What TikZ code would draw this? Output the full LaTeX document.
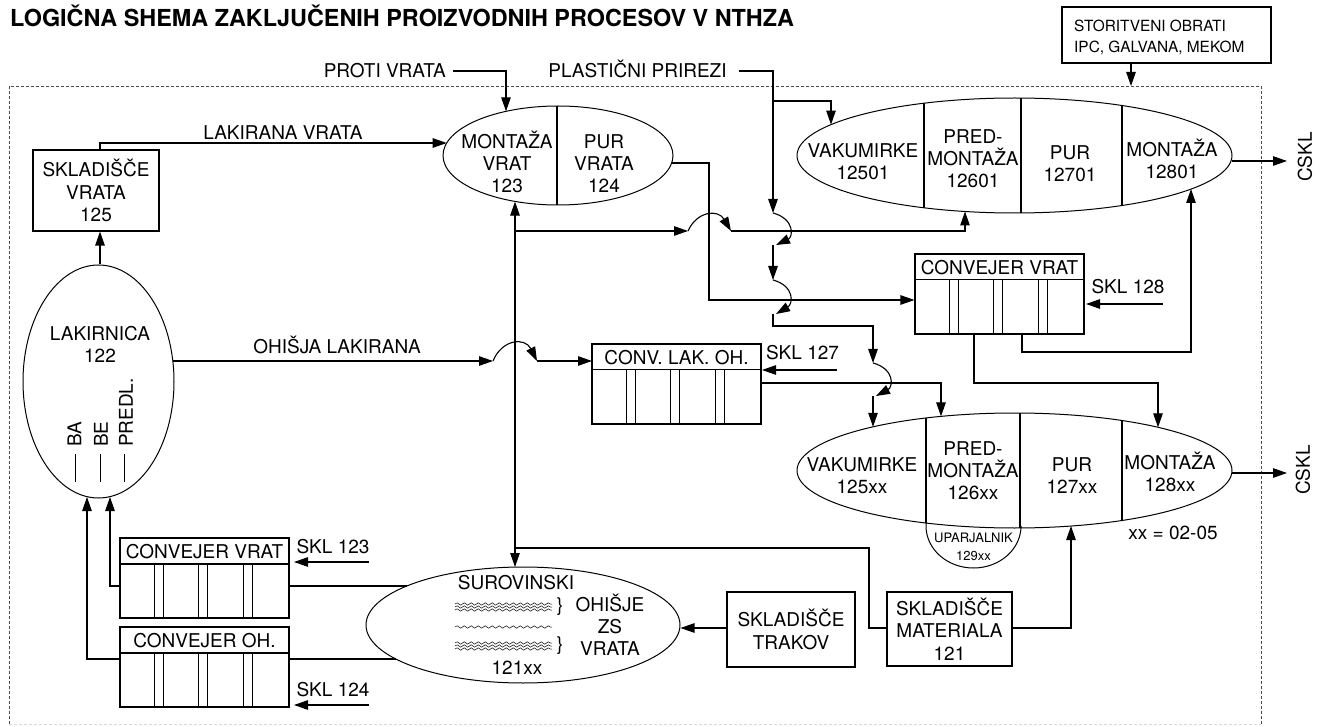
\documentclass[tikz,border=0pt]{standalone}
\usepackage{fontspec}
\setmainfont{TeX Gyre Heros}
\usetikzlibrary{shapes.geometric,arrows.meta,decorations.pathmorphing,calc}
\tikzset{
 lw/.style={line width=1.1pt},
 arr/.style={lw,-{Triangle[length=14pt,width=9.5pt]}},
 dbl/.style={lw,{Triangle[length=14pt,width=9.5pt]}-{Triangle[length=14pt,width=9.5pt]}},
 txt/.style={inner sep=0pt,align=center,font=\fontsize{19}{22}\selectfont},
 smalltxt/.style={inner sep=0pt,align=center,font=\fontsize{13}{18}\selectfont},
 boxn/.style={draw,lw,inner sep=0pt,align=center,font=\fontsize{19}{22.5}\selectfont},
 elln/.style={draw,ellipse,line width=1pt,inner sep=0pt},
 framel/.style={line width=0.9pt,gray!60!black,dash pattern=on 3pt off 2pt},
 wave/.style={line width=0.5pt,decorate,decoration={snake,segment length=7pt,amplitude=1.2pt}},
}
\newcommand\convey[4]{%
 \node[boxn,minimum width=169pt,minimum height=80pt] (#1) at (#2,-#3) {};
 \node[txt] (#1t) at (#2,{-(#3-26.75)}) {#4};
 \draw[lw] ($(#1.north west)+(0,-26.5)$) -- ($(#1.north east)+(0,-26.5)$);
 \foreach \o in {35,44,79,88,124,133} {\draw[lw] ($(#1.north west)+(\o,-26.5)$) -- ($(#1.south west)+(\o,0)$);}
}
\begin{document}
\begin{tikzpicture}[x=1pt,y=1pt]
\useasboundingbox (0,0) rectangle (1323,-727);
\fill[white] (0,0) rectangle (1323,-727);

% title
\node[anchor=base west,inner sep=0pt,font=\fontsize{23.4}{27}\selectfont\bfseries] (title) at (10,-27) {LOGIČNA SHEMA ZAKLJUČENIH PROIZVODNIH PROCESOV V NTHZA};

% frame
\draw[framel] (9,-724) -- (9,-86) -- (1261,-86) -- (1261,-724);
\draw[framel,gray!30] (9,-724) -- (1261,-724);

% storitveni obrati
\node[boxn,minimum width=209pt,minimum height=56pt] (stor) at (1166.5,-35) {};
\node[anchor=base west,inner sep=0pt,font=\fontsize{15.4}{20}\selectfont] (stora) at (1074,-32) {STORITVENI OBRATI};
\node[anchor=base west,inner sep=0pt,font=\fontsize{15.4}{20}\selectfont] (storb) at (1074,-53) {IPC, GALVANA, MEKOM};
\coordinate (storout) at (1131,-63);
\draw[arr] (storout) -- (1131,-86);

% top inputs
\node[txt,anchor=base east] (proti) at (446,-78) {PROTI VRATA};
\node[txt,anchor=base] (plast) at (637.5,-78) {PLASTIČNI PRIREZI};

% ellipses
\node[elln,minimum width=230pt,minimum height=99pt] (e0) at (558,-155.5) {};
\node[elln,minimum width=435pt,minimum height=115pt] (e1) at (1014.5,-155.5) {};
\node[elln,minimum width=435pt,minimum height=115pt] (e2) at (1014.5,-470.5) {};
\node[elln,minimum width=151pt,minimum height=233pt] (lak) at (98.5,-381.5) {};
\node[elln,minimum width=314pt,minimum height=116pt] (sur) at (523,-625) {};

% dividers
\draw[lw] (557,-106) -- (557,-205);
\draw[lw] (924,-103.2) -- (924,-207.8);
\draw[lw] (1021,-98) -- (1021,-213);
\draw[lw] (1122,-105.5) -- (1122,-205.5);
\draw[lw] (926,-418) -- (926,-523);
\draw[lw] (1020,-413) -- (1020,-528);
\draw[lw] (1122,-420.5) -- (1122,-520.5);
% uparjalnik
\draw[line width=1pt] (926,-523) -- (926,-526) arc[start angle=180,end angle=360,x radius=47.5pt,y radius=42pt] -- (1021,-528);
\node[smalltxt] (upa) at (973.5,-538) {UPARJALNIK};
\node[smalltxt] (upb) at (973.5,-556) {129xx};

% ellipse texts
\node[txt] (t123) at (507,-162) {MONTAŽA\\VRAT\\123};
\node[txt] (t124) at (604,-164) {PUR\\VRATA\\124};
\node[txt] (t12501) at (863,-162) {VAKUMIRKE\\12501};
\node[txt] (t12601) at (973,-159) {PRED-\\MONTAŽA\\12601};
\node[txt] (t12701) at (1070,-164) {PUR\\12701};
\node[txt] (t12801) at (1172,-159) {MONTAŽA\\12801};
\node[txt] (t125xx) at (862,-476) {VAKUMIRKE\\125xx};
\node[txt] (t126xx) at (973,-471) {PRED-\\MONTAŽA\\126xx};
\node[txt] (t127xx) at (1072,-476) {PUR\\127xx};
\node[txt] (t128xx) at (1170,-472) {MONTAŽA\\128xx};
\node[txt,anchor=base] (xx) at (1173,-539.5) {xx = 02-05};
\node[txt] (t122) at (100,-344) {LAKIRNICA\\122};
\node[txt,rotate=90,anchor=west] (ba) at (74.5,-447) {BA};
\node[txt,rotate=90,anchor=west] (be) at (101,-447) {BE};
\node[txt,rotate=90,anchor=west] (predl) at (126,-447) {PREDL.};
\draw[line width=1pt] (75,-454) -- (75,-482);
\draw[line width=1pt] (100,-454) -- (100,-482);
\draw[line width=1pt] (124,-454) -- (124,-482);

% surovinski
\node[txt,anchor=base] (sur1) at (516,-589.5) {SUROVINSKI};
\foreach \yy in {-604,-607,-610} {\draw[wave] (455,\yy) -- (552,\yy);}
\draw[wave] (455,-627) -- (552,-627);
\foreach \yy in {-643,-646,-649} {\draw[wave] (455,\yy) -- (552,\yy);}
\node[txt] (bra) at (560,-607) {\}};
\node[txt] (brb) at (560,-646) {\}};
\node[txt] (ohz) at (610,-625) {OHIŠJE\\ZS\\VRATA};
\node[txt,anchor=base] (sur2) at (517,-674.5) {121xx};

% CSKL
\node[txt,rotate=90] (cskl1) at (1305,-157) {CSKL};
\node[txt,rotate=90] (cskl2) at (1303,-470) {CSKL};
\draw[arr] (1232,-161) -- (1287,-161);
\draw[arr] (1232,-473) -- (1287,-473);

% boxes
\node[boxn,minimum width=126pt,minimum height=81pt] (sklv) at (96,-190.5) {SKLADIŠČE\\VRATA\\125};
\node[boxn,minimum width=128pt,minimum height=75pt] (sklt) at (791,-629.5) {SKLADIŠČE\\TRAKOV};
\node[boxn,minimum width=125pt,minimum height=74pt] (sklm) at (949.5,-629) {SKLADIŠČE\\MATERIALA\\121};

% conveyors
\convey{clo}{676.5}{384}{CONV. LAK. OH.}
\convey{cvr}{999.5}{294}{CONVEJER VRAT}
\convey{cvb}{204.5}{578}{CONVEJER VRAT}
\convey{coh}{204.5}{667}{CONVEJER OH.}

% SKL labels
\node[txt,anchor=base] (s127) at (802.5,-359.5) {SKL 127};
\node[txt,anchor=base] (s128) at (1128,-293.5) {SKL 128};
\node[txt,anchor=base] (s123) at (333,-553.5) {SKL 123};
\node[txt,anchor=base] (s124) at (333,-696.5) {SKL 124};
\draw[arr] (837,-370) -- (762,-370);
\draw[arr] (1163,-304) -- (1086,-304);
\draw[arr] (369,-562) -- (294,-562);
\draw[arr] (369,-705) -- (294,-705);

% labels on lines
\node[txt,anchor=base] (lakv) at (283,-139.5) {LAKIRANA VRATA};
\node[txt,anchor=base] (ohl) at (337,-353.5) {OHIŠJA LAKIRANA};

% connectors
\draw[arr] (453,-71) -- (506,-71) -- (506,-111.3);
\draw[arr] (739,-71) -- (773,-71) -- (773,-213);
\draw[arr] (773,-101) -- (831,-101) -- (831,-124.6);
\draw[arr] (sklv.north -| 100,0) -- (100,-143) -- (446.7,-143);
\draw[arr] (100,-264.5) -- (sklv.south -| 100,0);
\draw[dbl] (515,-201.6) -- (515,-567);
% horizontal y=231
\draw[arr] (515,-231) -- (688,-231);
\draw[arr] (688,-231) .. controls (697,-211) and (718,-209) .. (731,-231);
\draw[arr] (731,-231) -- (965,-231) -- (965,-211.5);
% PUR VRATA out
\draw[arr] (671.7,-163) -- (709,-163) -- (709,-300) -- (cvr.west |- 0,-300);
% vertical 773 chain
\draw[arr] (773,-213) .. controls (795,-219) and (793,-237) .. (776,-245);
\draw[arr] (773,-245) -- (773,-280);
\draw[arr] (773,-280) .. controls (795,-286) and (793,-304) .. (776,-314);
\draw[arr] (773,-314) -- (773,-326) -- (873,-326) -- (873,-363);
\draw[arr] (873,-363) .. controls (895,-369) and (893,-387) .. (876,-396);
\draw[arr] (873,-396) -- (873,-426.8);
% conveyor right outputs
\draw[arr] (1022,-334) -- (1022,-352) -- (1191,-352) -- (1191,-189);
\draw[arr] (974,-334) -- (974,-383) -- (1158,-383) -- (1158,-427.3);
\draw[arr] (761,-383) -- (941,-383) -- (941,-416.4);
% ohisja lakirana
\draw[arr] (172.8,-361) -- (493,-361);
\draw[arr] (493,-361) .. controls (502,-339) and (525,-337) .. (537,-361);
\draw[arr] (537,-361) -- (592,-361);
% material
\draw[lw] (515,-548) -- (869,-548) -- (869,-628) -- (sklm.west |- 0,-628);
\draw[arr] (sklm.east |- 0,-628) -- (1071,-628) -- (1071,-526);
\draw[arr] (sklt.west |- 0,-628) -- (680.5,-628);
% bottom-left conveyors
\draw[lw] (289,-586) -- (407,-586);
\draw[lw] (289,-659) -- (396,-659);
\draw[arr] (120,-586) -- (110,-586) -- (110,-497);
\draw[arr] (120,-659) -- (87,-659) -- (87,-497);
\end{tikzpicture}
\end{document}
